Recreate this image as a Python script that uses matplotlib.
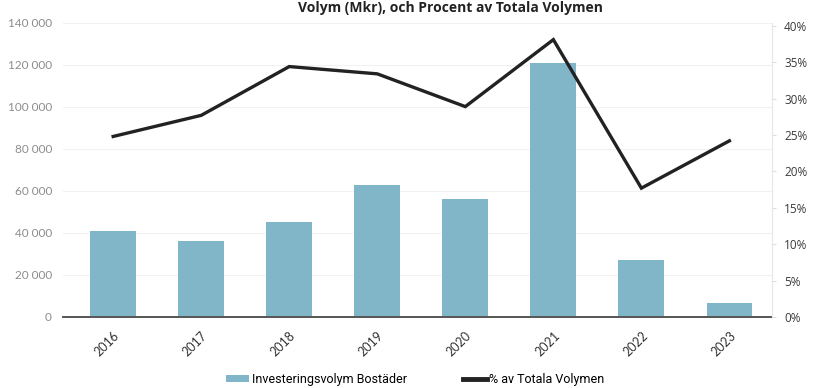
import numpy as np
import matplotlib
matplotlib.use("Agg")
import matplotlib.pyplot as plt
from matplotlib.patches import Patch
from matplotlib.lines import Line2D

# --- data ---
years = ["2016", "2017", "2018", "2019", "2020", "2021", "2022", "2023"]
volym_bostader = [41000, 36000, 45000, 63000, 56000, 121000, 27000, 6500]
andel_total = [24.8, 27.7, 34.4, 33.4, 28.9, 38.1, 17.7, 24.2]

left_ticks = [0, 20000, 40000, 60000, 80000, 100000, 120000, 140000]
left_labels = ["0", "20 000", "40 000", "60 000", "80 000", "100 000", "120 000", "140 000"]
right_ticks = [0, 5, 10, 15, 20, 25, 30, 35, 40]
right_labels = [f"{t}%" for t in right_ticks]

title_text = "Volym (Mkr), och Procent av Totala Volymen"
bar_label = "Investeringsvolym Bostäder"
line_label = "% av Totala Volymen"

BAR_COLOR = "#80b6c8"
LINE_COLOR = "#222222"

fig = plt.figure(figsize=(8.14, 3.88), dpi=100)
ax = fig.add_axes([0.0774, 0.183, 0.8706, 0.758])
ax2 = ax.twinx()

x = np.arange(len(years))
ax.bar(x, volym_bostader, width=0.52, color=BAR_COLOR, zorder=2)
ax2.plot(x, andel_total, color=LINE_COLOR, linewidth=2.4, solid_joinstyle="miter", zorder=3)

ax.set_xlim(-0.57, 7.48)
ax.set_ylim(0, 140000)
ax2.set_ylim(0, 40.4)

# faint horizontal grid
for t in left_ticks[1:]:
    ax.axhline(t, color="#f1f1f1", linewidth=0.8, zorder=0)

ax.set_yticks(left_ticks)
ax.set_yticklabels(left_labels, fontfamily="Lato", fontsize=8.5, color="#8c8c8c")
ax.tick_params(axis="y", length=0, pad=8)

ax.set_xticks(x)
ax.set_xticklabels(years, rotation=45, ha="right", rotation_mode="anchor",
                   fontfamily="Lato", fontsize=9, color="#333333")
ax.tick_params(axis="x", length=0, pad=9)

ax2.set_yticks(right_ticks)
ax2.set_yticklabels(right_labels, fontfamily="Open Sans", fontsize=8.5, color="#3a3a3a")
ax2.tick_params(axis="y", length=3, color="#dddddd", pad=6)

for a in (ax, ax2):
    a.spines["top"].set_visible(False)
    a.spines["left"].set_visible(False)
    a.spines["right"].set_visible(False)
ax.spines["bottom"].set_color("#555555")
ax.spines["bottom"].set_linewidth(1.4)
ax2.spines["bottom"].set_visible(False)
ax2.spines["right"].set_visible(True)
ax2.spines["right"].set_color("#e6e6e6")
ax2.spines["right"].set_linewidth(0.8)

# title squeezed into the thin top margin
fig.text(0.553, 1 - 12 / 388, title_text, ha="center", va="baseline",
         fontsize=10, fontweight="bold", color="#222222", fontfamily="Open Sans")

handles = [Patch(facecolor=BAR_COLOR, edgecolor="none"),
           Line2D([0], [0], color=LINE_COLOR, linewidth=3.5)]
fig.legend(handles, [bar_label, line_label], loc="center", bbox_to_anchor=(0.51, 0.022),
           ncol=2, frameon=False, handlelength=1.9, handleheight=0.5,
           handletextpad=0.2, columnspacing=4.5, prop={"family": "Roboto", "size": 9})

fig.savefig("out.png", dpi=100)
